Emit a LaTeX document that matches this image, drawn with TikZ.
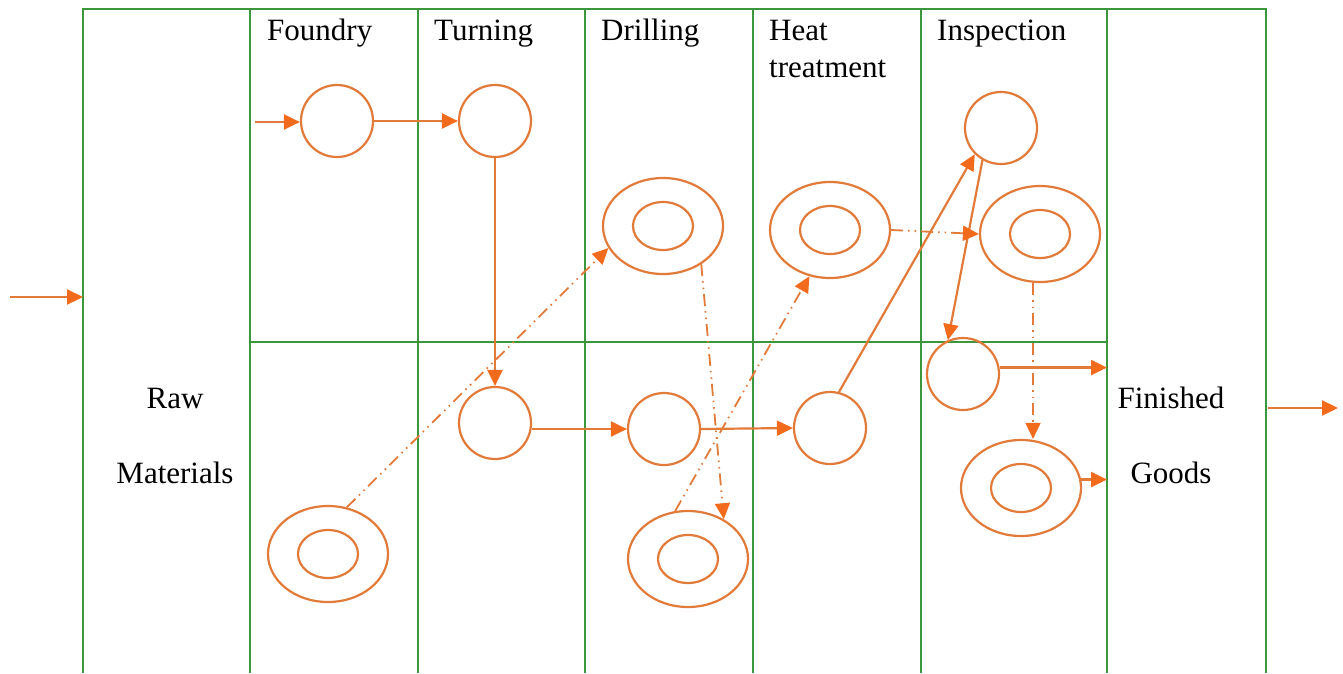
\documentclass[tikz,border=0pt]{standalone}
\usepackage{fontspec}
\setmainfont{Liberation Serif}
\usetikzlibrary{arrows.meta,shapes.geometric}
\definecolor{gridgreen}{RGB}{60,150,60}
\definecolor{orline}{RGB}{226,122,58}
\definecolor{ortip}{RGB}{242,106,28}
\tikzset{
  grid/.style={draw=gridgreen,line width=2pt},
  opcircle/.style={circle,draw=orline,line width=2.2pt,minimum size=72pt,inner sep=0pt},
  outerell/.style={ellipse,draw=orline,line width=2.2pt,minimum width=120pt,minimum height=96pt,inner sep=0pt},
  innerell/.style={ellipse,draw=orline,line width=2.2pt,minimum width=60pt,minimum height=48pt,inner sep=0pt},
  flow/.style={draw=orline,line width=2.2pt,-{Triangle[length=16pt,width=15pt,fill=ortip,color=ortip]}},
  dflow/.style={flow,line width=1.8pt,dash pattern=on 12pt off 5pt on 1.5pt off 5pt on 1.5pt off 5pt},
  lbl/.style={inner sep=0pt,font=\fontsize{31}{37}\selectfont,text=black},
}
\begin{document}
\begin{tikzpicture}[x=1pt,y=-1pt]
\useasboundingbox (0,0) rectangle (1343,673);
% grid
\draw[grid] (83,673) -- (83,9) -- (1266,9) -- (1266,673);
\foreach \xx in {250,418,585,753,921,1107} \draw[grid] (\xx,9) -- (\xx,673);
\draw[grid] (250,342) -- (1107,342);
% reference coordinates
\coordinate (fgL) at (1107,0);
\coordinate (vx) at (1033,0);
\coordinate (inA) at (10,297);
\coordinate (inB) at (83,297);
\coordinate (outA) at (1268,408);
\coordinate (outB) at (1338,408);
\coordinate (inF) at (255,122);
% labels
\node[lbl,anchor=base west] (lf) at (267,40) {Foundry};
\node[lbl,anchor=base west] (lt) at (434,40) {Turning};
\node[lbl,anchor=base west] (ld) at (601,40) {Drilling};
\node[lbl,anchor=base west] (lh1) at (769,40) {Heat};
\node[lbl,anchor=base west] (lh2) at (769,77) {treatment};
\node[lbl,anchor=base west] (li) at (937,40) {Inspection};
\node[lbl,anchor=base] (lr1) at (175,408) {Raw};
\node[lbl,anchor=base] (lr2) at (175,483) {Materials};
\node[lbl,anchor=base] (lg1) at (1171,408) {Finished};
\node[lbl,anchor=base] (lg2) at (1171,483) {Goods};
% operations
\node[opcircle] (f1) at (337,121) {};
\node[opcircle] (t1) at (495,121) {};
\node[opcircle] (t2) at (495,423) {};
\node[opcircle] (d2) at (664,429) {};
\node[opcircle] (h2) at (830,428) {};
\node[opcircle] (i1) at (1001,128) {};
\node[opcircle] (i2) at (963,374) {};
% storages
\node[outerell] (e1) at (328,554) {};
\node[innerell] (e1i) at (328,554) {};
\node[outerell] (e2) at (663,226) {};
\node[innerell] (e2i) at (663,226) {};
\node[outerell] (e3) at (830,230) {};
\node[innerell] (e3i) at (830,230) {};
\node[outerell] (e4) at (1040,234) {};
\node[innerell] (e4i) at (1040,234) {};
\node[outerell] (e5) at (688,559) {};
\node[innerell] (e5i) at (688,559) {};
\node[outerell] (e6) at (1021,488) {};
\node[innerell] (e6i) at (1021,488) {};
% solid flows
\draw[flow] (inA) -- (inB);
\draw[flow] (outA) -- (outB);
\draw[flow] (inF) -- (inF -| f1.west);
\draw[flow] (f1.east) -- (t1.west);
\draw[flow] (t1.south) -- (t2.north);
\draw[flow] (t2.east |- d2.west) -- (d2.west);
\draw[flow] (d2.east) -- (h2.west);
\draw[flow] (h2.76) -- (i1.225);
\draw[flow] (i1.240) -- (i2.114);
\draw[flow] (i2.10) -- (i2.10 -| fgL);
\draw[flow] (e6.8) -- (e6.8 -| fgL);
% dash-dot-dot flows
\draw[dflow] (e1.68) -- (e2.202);
\draw[dflow] (e2.315) -- (e5.48);
\draw[dflow] (e5.105) -- (e3.246);
\draw[dflow] (e3.east) -- (e4.west);
\draw[dflow] (vx |- e4.south) -- (vx |- e6.north);
\end{tikzpicture}
\end{document}
